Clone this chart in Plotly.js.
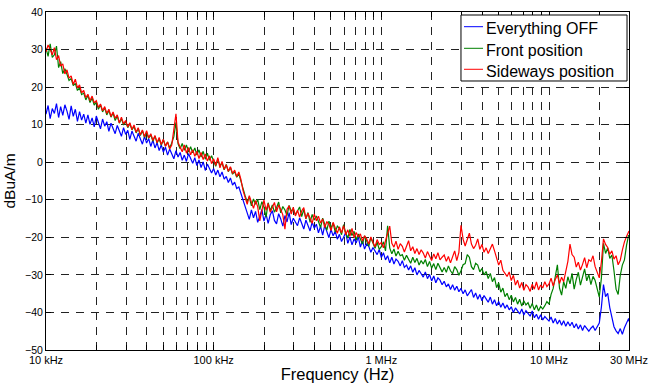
<!DOCTYPE html>
<html>
<head>
<meta charset="utf-8">
<script src="https://cdn.plot.ly/plotly-3.0.1.min.js"></script>
<style>html,body{margin:0;padding:0;background:#fff;}#chart{width:650px;height:383px;}</style>
</head>
<body>
<div id="chart"></div>
<script>
// Frequencies in kHz (80 points per decade, 10 kHz .. 30 MHz)
var freqKHz = [
10.00,10.29,10.59,10.90,11.22,11.55,11.89,12.23,12.59,12.96,13.34,13.72,14.13,14.54,14.96,15.40,15.85,16.31,16.79,17.28,
17.78,18.30,18.84,19.39,19.95,20.54,21.13,21.75,22.39,23.04,23.71,24.41,25.12,25.85,26.61,27.38,28.18,29.01,29.85,30.73,
31.62,32.55,33.50,34.47,35.48,36.52,37.58,38.68,39.81,40.97,42.17,43.40,44.67,45.97,47.32,48.70,50.12,51.58,53.09,54.64,
56.23,57.88,59.57,61.31,63.10,64.94,66.83,68.79,70.79,72.86,74.99,77.18,79.43,81.75,84.14,86.60,89.13,91.73,94.41,97.16,
100.0,102.9,105.9,109.0,112.2,115.5,118.9,122.3,125.9,129.6,133.4,137.2,141.3,145.4,149.6,154.0,158.5,163.1,167.9,172.8,
177.8,183.0,188.4,193.9,199.5,205.4,211.3,217.5,223.9,230.4,237.1,244.1,251.2,258.5,266.1,273.8,281.8,290.1,298.5,307.3,
316.2,325.5,335.0,344.7,354.8,365.2,375.8,386.8,398.1,409.7,421.7,434.0,446.7,459.7,473.2,487.0,501.2,515.8,530.9,546.4,
562.3,578.8,595.7,613.1,631.0,649.4,668.3,687.9,707.9,728.6,749.9,771.8,794.3,817.5,841.4,866.0,891.3,917.3,944.1,971.6,
1000,1029,1059,1090,1122,1155,1189,1223,1259,1296,1334,1372,1413,1454,1496,1540,1585,1631,1679,1728,
1778,1830,1884,1939,1995,2054,2113,2175,2239,2304,2371,2441,2512,2585,2661,2738,2818,2901,2985,3073,
3162,3255,3350,3447,3548,3652,3758,3868,3981,4097,4217,4340,4467,4597,4732,4870,5012,5158,5309,5464,
5623,5788,5957,6131,6310,6494,6683,6879,7079,7286,7499,7718,7943,8175,8414,8660,8913,9173,9441,9716,
10000,10290,10590,10900,11220,11550,11890,12230,12590,12960,13340,13720,14130,14540,14960,15400,15850,16310,16790,17280,
17780,18300,18840,19390,19950,20540,21130,21750,22390,23040,23710,24410,25120,25850,26610,27380,28180,29010,29850,30000];

var everythingOff = [
12.8,15.1,11.6,14.3,13.0,15.6,11.9,14.8,12.5,15.3,
13.6,11.4,15.0,12.2,14.1,10.9,13.5,11.2,12.8,10.4,
12.6,10.1,11.8,9.4,12.3,10.7,8.9,11.5,9.6,10.8,
8.2,10.4,9.1,7.6,9.8,8.3,6.9,9.2,7.4,8.5,
6.1,8.3,7.0,5.6,7.7,6.2,4.8,6.9,5.1,6.3,
4.2,5.9,3.8,5.2,3.1,4.6,2.7,4.0,1.9,3.5,
2.2,0.9,3.1,1.4,2.6,0.5,1.9,0.2,2.3,0.8,
-0.3,1.2,-0.9,0.6,-1.4,0.1,-2.2,-0.5,-1.6,-2.9,
-1.7,-3.4,-2.1,-3.9,-2.6,-4.5,-3.8,-5.4,-4.2,-6.1,
-5.3,-7.0,-6.6,-8.4,-9.9,-11.8,-13.9,-15.2,-12.7,-14.8,
-13.1,-16.0,-14.4,-12.6,-15.7,-13.8,-16.3,-14.0,-12.9,-15.5,
-16.4,-13.7,-15.1,-17.0,-14.2,-15.9,-13.4,-16.6,-14.9,-15.8,
-16.9,-14.8,-16.2,-17.8,-15.4,-17.1,-18.3,-15.9,-17.6,-16.5,
-18.8,-17.0,-19.4,-16.8,-18.5,-20.1,-17.9,-19.6,-18.4,-20.5,
-19.2,-21.1,-20.0,-18.7,-21.6,-19.9,-22.0,-20.4,-21.5,-19.8,
-22.6,-20.9,-23.1,-21.8,-22.4,-24.0,-22.7,-23.8,-24.6,-23.2,
-25.4,-24.1,-26.0,-24.9,-26.8,-25.3,-27.1,-25.8,-26.4,-27.6,
-26.2,-28.0,-27.4,-28.7,-27.6,-29.3,-28.1,-30.0,-28.8,-29.7,
-30.6,-29.2,-31.0,-29.9,-31.6,-30.3,-32.1,-30.8,-31.4,-32.6,
-31.7,-33.2,-32.4,-33.9,-32.6,-34.1,-33.0,-34.5,-33.6,-35.0,
-34.0,-35.6,-34.7,-33.9,-36.0,-34.8,-36.5,-35.2,-36.9,-35.5,
-36.4,-37.3,-35.9,-37.8,-36.6,-38.2,-37.1,-38.6,-37.5,-38.9,
-38.0,-39.3,-38.5,-40.0,-38.8,-39.6,-40.4,-39.1,-40.7,-39.5,
-40.2,-41.0,-39.6,-41.4,-40.5,-41.8,-40.6,-42.0,-41.1,-41.7,
-42.3,-41.2,-42.8,-41.6,-43.1,-42.0,-43.4,-42.2,-43.7,-42.5,
-43.6,-42.6,-44.1,-43.0,-44.4,-43.3,-44.8,-43.5,-44.2,-45.0,
-44.2,-43.6,-44.8,-43.9,-42.8,-38.5,-32.6,-35.8,-34.9,-38.7,
-41.2,-43.8,-44.9,-45.6,-44.3,-45.8,-44.1,-42.9,-41.6,-42.4];

var frontPosition = [
30.4,28.2,31.5,27.9,28.6,30.9,25.2,26.8,23.6,24.9,
23.4,21.8,22.3,20.4,21.0,19.1,19.8,18.0,18.4,16.6,
17.8,15.9,17.1,15.2,16.0,14.1,15.3,13.4,14.5,12.6,
13.8,12.0,13.1,11.1,12.3,10.4,11.6,9.9,10.8,9.2,
10.3,8.6,9.5,7.8,9.0,7.1,8.4,6.6,7.9,6.4,
7.3,5.6,7.0,5.1,6.2,4.5,6.0,4.3,5.4,3.8,
5.1,6.8,10.6,4.9,3.6,5.0,3.2,4.6,2.7,4.1,
2.5,3.8,1.9,3.3,1.4,2.9,0.8,2.4,0.5,1.7,
0.3,-1.1,0.8,-0.9,-0.2,-2.0,-0.6,-2.5,-1.4,-3.2,
-2.5,-4.0,-3.1,-5.2,-6.8,-8.9,-10.5,-9.2,-11.6,-9.8,
-11.2,-9.9,-12.6,-10.5,-12.0,-14.6,-10.8,-12.9,-11.4,-13.3,
-12.1,-10.6,-13.5,-11.8,-12.7,-14.2,-11.5,-13.0,-12.4,-14.0,
-13.0,-11.9,-14.5,-12.6,-15.1,-13.4,-16.0,-13.9,-15.4,-14.3,
-15.8,-17.4,-14.9,-16.6,-18.1,-15.7,-17.5,-16.2,-18.6,-17.0,
-17.6,-19.3,-16.6,-18.8,-20.2,-17.9,-19.5,-18.4,-20.7,-19.1,
-20.3,-21.8,-19.6,-21.2,-22.4,-20.1,-21.8,-22.9,-21.3,-23.2,
-22.5,-21.2,-23.6,-16.9,-22.8,-24.4,-23.1,-25.0,-23.7,-24.9,
-24.6,-26.1,-24.8,-25.7,-26.9,-25.3,-26.7,-25.6,-27.4,-26.2,
-27.1,-25.9,-27.8,-26.4,-28.2,-27.0,-28.6,-26.9,-28.1,-29.2,
-28.0,-29.3,-27.6,-28.9,-29.7,-27.8,-28.6,-30.1,-28.9,-27.3,
-27.0,-24.6,-25.3,-27.8,-28.6,-26.9,-27.4,-29.2,-28.3,-30.0,
-29.1,-31.0,-29.6,-31.8,-30.7,-33.4,-32.1,-34.6,-33.5,-35.8,
-34.9,-36.6,-35.4,-37.2,-36.0,-37.8,-36.5,-38.3,-36.9,-38.0,
-37.4,-38.9,-37.6,-39.3,-38.0,-39.6,-38.4,-39.1,-38.2,-37.1,
-37.8,-35.2,-33.6,-30.4,-27.3,-33.5,-35.4,-31.8,-33.6,-30.5,
-32.4,-29.6,-33.8,-31.2,-29.3,-32.7,-30.5,-28.4,-31.6,-29.9,
-32.6,-30.4,-31.5,-34.2,-35.9,-30.8,-21.6,-24.3,-22.8,-25.6,
-24.7,-28.9,-33.8,-35.2,-30.1,-27.4,-26.0,-22.1,-19.4,-19.8];

var sidewaysPosition = [
29.4,31.2,30.1,28.6,30.5,27.3,28.4,25.6,26.2,23.5,
24.6,22.4,23.0,20.7,22.1,19.8,20.6,18.5,19.1,17.2,
18.1,16.4,17.6,15.8,16.4,14.6,15.5,13.7,14.8,13.0,
14.1,12.2,13.4,11.7,12.6,10.5,12.0,10.2,11.1,9.4,
10.5,8.7,9.9,8.0,9.2,7.3,8.6,6.8,8.4,6.5,
7.6,5.8,7.1,5.2,6.6,4.7,6.1,4.2,5.4,3.5,
4.6,8.2,12.9,5.3,4.1,2.8,4.6,2.4,3.9,2.0,
3.3,1.6,2.9,1.0,2.6,0.7,2.2,0.3,1.7,-0.4,
0.9,-0.8,1.2,-1.5,0.2,-1.9,-0.7,-2.4,-1.2,-3.0,
-2.1,-3.8,-2.6,-4.6,-7.5,-9.4,-11.2,-8.9,-10.6,-12.3,
-10.2,-11.8,-15.6,-12.4,-10.1,-12.8,-11.0,-13.3,-12.2,-10.7,
-13.2,-11.4,-12.6,-14.0,-17.8,-12.5,-11.6,-13.8,-12.0,-14.3,
-12.8,-14.6,-13.0,-12.1,-15.0,-13.6,-14.9,-16.3,-13.8,-15.6,
-14.4,-16.2,-15.1,-17.4,-15.8,-16.6,-18.2,-16.0,-17.5,-18.9,
-17.2,-18.8,-16.9,-19.3,-18.0,-19.7,-17.6,-20.1,-18.7,-19.9,
-19.1,-21.0,-19.6,-20.4,-21.8,-19.9,-21.3,-22.5,-20.6,-21.9,
-21.4,-22.8,-20.9,-19.2,-17.0,-21.6,-22.6,-21.0,-23.2,-21.7,
-22.4,-23.9,-22.1,-20.9,-23.6,-22.5,-24.3,-23.0,-24.6,-23.3,
-24.2,-25.5,-23.8,-25.0,-26.2,-24.4,-25.7,-24.1,-26.0,-25.3,
-24.7,-26.4,-25.1,-26.8,-24.9,-23.6,-26.2,-24.0,-16.8,-20.5,
-22.3,-20.6,-18.9,-21.8,-23.0,-22.1,-20.4,-23.2,-21.9,-24.0,
-22.8,-24.3,-22.9,-21.8,-23.6,-25.9,-27.4,-26.1,-28.8,-29.6,
-30.4,-29.2,-31.5,-30.1,-32.7,-31.4,-33.5,-32.0,-34.1,-32.6,
-33.2,-34.4,-32.5,-33.8,-31.9,-34.0,-32.7,-33.5,-31.8,-33.1,
-32.4,-30.9,-33.0,-31.2,-30.0,-32.3,-30.6,-31.8,-29.2,-26.4,
-21.8,-24.6,-25.3,-27.9,-26.6,-28.7,-27.2,-25.4,-28.1,-26.0,
-26.4,-24.9,-27.8,-29.6,-30.8,-26.5,-20.4,-21.9,-22.7,-24.5,
-23.6,-25.8,-24.9,-27.3,-26.1,-23.4,-21.2,-19.8,-18.6,-18.3];

var seriesNames = ["Everything OFF", "Front position", "Sideways position"];
var seriesColors = ["#0000ff", "#008000", "#ff0000"];

var xTickVals = [10,20,30,40,50,60,70,80,90,100,200,300,400,500,600,700,800,900,
  1000,2000,3000,4000,5000,6000,7000,8000,9000,10000,20000,30000];
var xTickLabels = {10:"10 kHz", 100:"100 kHz", 1000:"1 MHz", 10000:"10 MHz", 30000:"30 MHz"};
var yTickVals = [-50,-40,-30,-20,-10,0,10,20,30,40];

var font = "Liberation Sans, Arial, Helvetica, sans-serif";
var allSeries = [everythingOff, frontPosition, sidewaysPosition];
var traces = allSeries.map(function(s, k){
  return {x: freqKHz, y: s, type: "scatter", mode: "lines", name: seriesNames[k],
    showlegend: false, line: {color: seriesColors[k], width: 1.2}};
});

// Legend drawn as a boxed key in the upper-right corner (paper coordinates)
var legBox = {x0: 0.7118, x1: 0.9966, y0: 0.7959, y1: 0.9911};
var legRowsY = [0.9565, 0.8926, 0.8305];
var shapes = [{type: "rect", xref: "paper", yref: "paper", layer: "above",
  x0: legBox.x0, x1: legBox.x1, y0: legBox.y0, y1: legBox.y1,
  fillcolor: "#fff", line: {color: "#000", width: 1}}];
var annotations = [];
seriesNames.forEach(function(name, k){
  shapes.push({type: "line", xref: "paper", yref: "paper", layer: "above",
    x0: 0.717, x1: 0.7496, y0: legRowsY[k], y1: legRowsY[k],
    line: {color: seriesColors[k], width: 1}});
  annotations.push({xref: "paper", yref: "paper", x: 0.7513, y: legRowsY[k] - 0.0053,
    xanchor: "left", yanchor: "middle", showarrow: false, text: name,
    font: {size: 16, family: font, color: "#000"}});
});

var layout = {
  width: 650, height: 383,
  margin: {l: 46, r: 21, t: 12, b: 33},
  paper_bgcolor: "#fff", plot_bgcolor: "#fff",
  font: {family: font, color: "#000"},
  showlegend: false,
  shapes: shapes, annotations: annotations,
  xaxis: {type: "log", range: [1, Math.log10(30000)],
    tickmode: "array", tickvals: xTickVals,
    ticktext: xTickVals.map(function(v){ return xTickLabels[v] || ""; }),
    ticks: "inside", ticklen: 5, tickcolor: "#000",
    showline: true, linecolor: "#000", linewidth: 1, mirror: "ticks",
    showgrid: true, gridcolor: "#222", gridwidth: 1, griddash: "8px,7px",
    zeroline: false, tickfont: {size: 11, family: font},
    title: {text: "Frequency (Hz)", font: {size: 16.5, family: font}, standoff: 6}},
  yaxis: {range: [-50, 40], tickmode: "array", tickvals: yTickVals,
    ticks: "inside", ticklen: 5, tickcolor: "#000",
    showline: true, linecolor: "#000", linewidth: 1, mirror: "ticks",
    showgrid: true, gridcolor: "#222", gridwidth: 1, griddash: "8px,7px",
    zeroline: false, tickfont: {size: 10.5, family: font},
    title: {text: "dBuA/m", font: {size: 15.5, family: font}, standoff: 5}}
};

Plotly.newPlot("chart", traces, layout, {displayModeBar: false, staticPlot: true});
</script>
</body>
</html>
